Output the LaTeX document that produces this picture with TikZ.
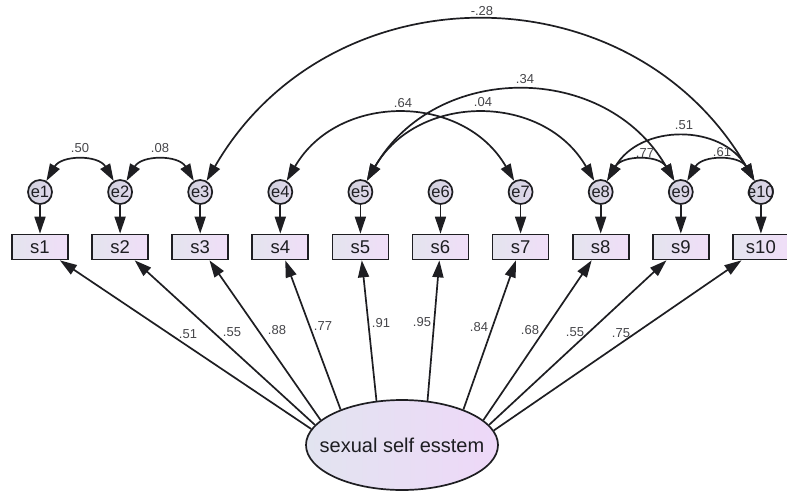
\documentclass[tikz,border=0pt]{standalone}
\usepackage{fontspec}
\setmainfont{Liberation Sans}
\usetikzlibrary{arrows.meta,shapes.geometric}

\definecolor{boxL}{RGB}{228,228,238}
\definecolor{boxR}{RGB}{240,222,248}
\definecolor{ellL}{RGB}{226,228,240}
\definecolor{ellR}{RGB}{238,216,248}
\definecolor{errL}{RGB}{208,208,220}
\definecolor{errR}{RGB}{226,218,238}
\definecolor{ink}{RGB}{30,30,34}
\definecolor{wtink}{RGB}{70,70,74}

\begin{document}
\begin{tikzpicture}[x=1pt,y=-1pt,
  line width=1.7pt,
  tip/.tip={Triangle[length=17pt,width=11pt]},
  load/.style={draw=ink, -tip},
  covar/.style={draw=ink, tip-tip, out=60, in=120, looseness=1.15},
  obsbox/.style={rectangle, draw=ink, minimum width=56pt, minimum height=25pt,
    inner sep=0pt, left color=boxL, right color=boxR, text=ink,
    font=\fontsize{18.5}{18.5}\selectfont},
  errcirc/.style={circle, draw=ink, minimum size=24pt, inner sep=0pt,
    left color=errL, right color=errR, text=ink,
    font=\fontsize{16.5}{16.5}\selectfont},
  wt/.style={inner sep=0pt, text=wtink, font=\fontsize{13}{13}\selectfont}
]
\fill[white] (0,0) rectangle (787,493);
\useasboundingbox (0,0) rectangle (787,493);

% indicators and their error terms
\foreach \i in {1,...,10} {
  \node[obsbox] (s\i) at ({40+80.1*(\i-1)},247) {s\i};
  \node[errcirc] (e\i) at ({40+80.1*(\i-1)},192) {\makebox[0pt]{e\i}};
  \draw[load] (e\i) -- (s\i);
}

% latent factor
\node[ellipse, draw=ink, minimum width=192pt, minimum height=90pt, inner sep=0pt,
  left color=ellL, right color=ellR, text=ink,
  font=\fontsize{20}{20}\selectfont] (f) at (402,445)
  {\makebox[0pt]{sexual self esstem}};

% factor loadings
\foreach \i/\a in {1/170,2/167,3/163,4/150,5/120,6/60,7/30,8/17,9/13,10/9} {
  \draw[load] (f.\a) -- (s\i);
}
\node[wt] (l1)  at (188,334) {.51};
\node[wt] (l2)  at (232,332) {.55};
\node[wt] (l3)  at (277,330) {.88};
\node[wt] (l4)  at (323,326) {.77};
\node[wt] (l5)  at (381,323) {.91};
\node[wt] (l6)  at (422,322) {.95};
\node[wt] (l7)  at (479,327) {.84};
\node[wt] (l8)  at (530,330) {.68};
\node[wt] (l9)  at (575,332) {.55};
\node[wt] (l10) at (621,333) {.75};

% error covariances
\draw[covar] (e1) to (e2);
\draw[covar] (e2) to (e3);
\draw[covar] (e3) to (e10);
\draw[covar] (e4) to (e7);
\draw[covar] (e5) to (e8);
\draw[covar] (e5) to (e9);
\draw[covar] (e8) to (e10);
\draw[covar] (e8) to (e9);
\draw[covar] (e9) to (e10);

\node[wt] (c12)  at (80,148)  {.50};
\node[wt] (c23)  at (160,148) {.08};
\node[wt] (c310) at (482,11)  {-.28};
\node[wt] (c47)  at (403,103) {.64};
\node[wt] (c58)  at (483,102) {.04};
\node[wt] (c59)  at (525,79)  {.34};
\node[wt] (c810) at (684,125) {.51};
\node[wt] (c89)  at (645,153) {.77};
\node[wt] (c910) at (722,152) {.61};
\end{tikzpicture}
\end{document}
